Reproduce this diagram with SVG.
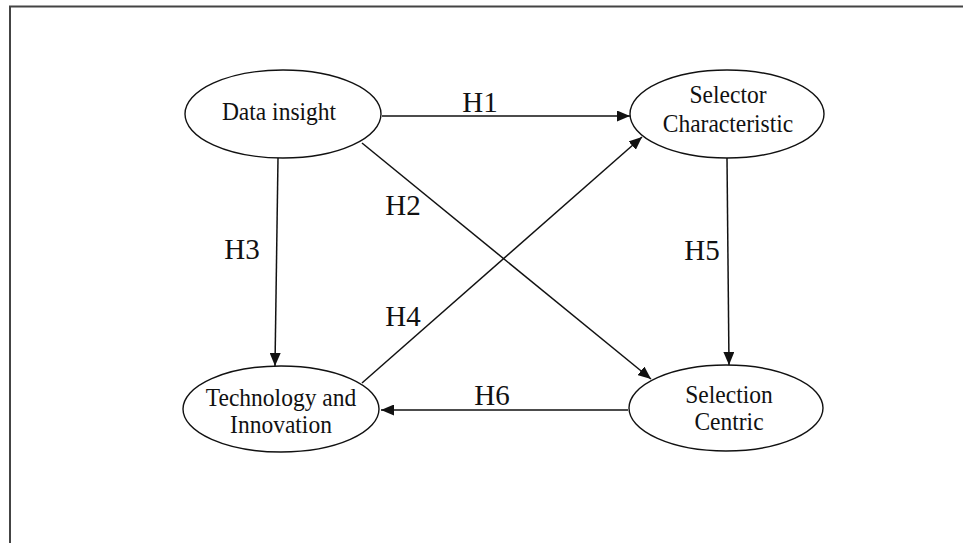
<svg xmlns="http://www.w3.org/2000/svg" width="963" height="543" viewBox="0 0 963 543">
<defs>
<style>
.node ellipse{fill:#fff;stroke:#111;stroke-width:1.4}
.node text,.lbl{font-family:"Liberation Serif","Times New Roman",serif;fill:#111;text-anchor:middle}
.node text{font-size:23.5px}
.lbl{font-size:29px}
.conn line{stroke:#111;stroke-width:1.5}
</style>
<marker id="ah" viewBox="0 0 13 11" refX="13" refY="5.5" markerWidth="13" markerHeight="11" markerUnits="userSpaceOnUse" orient="auto">
<path d="M0,0 L13,5.5 L0,11 Z" fill="#111"/>
</marker>
</defs>
<rect width="963" height="543" fill="#fff"/>
<g id="frame" stroke="#444" stroke-width="2" fill="none">
<line x1="9" y1="6.5" x2="963" y2="6.5"/>
<line x1="10" y1="6" x2="10" y2="543"/>
</g>
<g id="connectors" class="conn">
<line x1="382" y1="116" x2="630" y2="116" marker-end="url(#ah)"/>
<line x1="362" y1="143" x2="651" y2="379" marker-end="url(#ah)"/>
<line x1="278" y1="158" x2="275" y2="366" marker-end="url(#ah)"/>
<line x1="362" y1="383" x2="642" y2="137" marker-end="url(#ah)"/>
<line x1="727" y1="158" x2="729" y2="365" marker-end="url(#ah)"/>
<line x1="628" y1="410" x2="381" y2="410" marker-end="url(#ah)"/>
<text class="lbl" x="480" y="112">H1</text>
<text class="lbl" x="403" y="215">H2</text>
<text class="lbl" x="242" y="259">H3</text>
<text class="lbl" x="403" y="326">H4</text>
<text class="lbl" x="702" y="260">H5</text>
<text class="lbl" x="492" y="405">H6</text>
</g>
<g id="data-insight" class="node">
<ellipse cx="283" cy="114" rx="98" ry="44"/>
<text transform="translate(279,120) scale(1,1.09)">Data insight</text>
</g>
<g id="selector-characteristic" class="node">
<ellipse cx="727" cy="114" rx="97" ry="44"/>
<text transform="translate(728,103) scale(1,1.09)">Selector</text>
<text transform="translate(728,132) scale(1,1.09)">Characteristic</text>
</g>
<g id="technology-innovation" class="node">
<ellipse cx="281" cy="409" rx="98" ry="43"/>
<text transform="translate(281,406) scale(1,1.09)">Technology and</text>
<text transform="translate(281,433) scale(1,1.09)">Innovation</text>
</g>
<g id="selection-centric" class="node">
<ellipse cx="726" cy="408" rx="97" ry="43"/>
<text transform="translate(729,403) scale(1,1.09)">Selection</text>
<text transform="translate(729,430) scale(1,1.09)">Centric</text>
</g>
</svg>
